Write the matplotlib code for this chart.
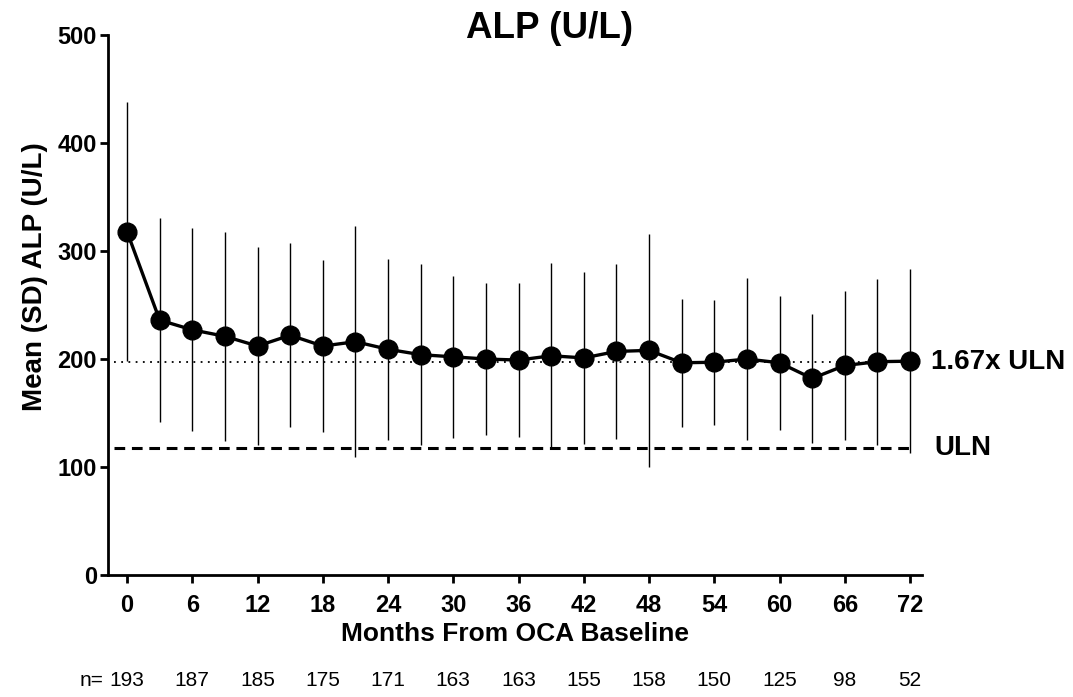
import matplotlib
matplotlib.use("Agg")
import matplotlib.pyplot as plt
from matplotlib.transforms import blended_transform_factory

plt.rcParams['font.family'] = ['Liberation Sans', 'DejaVu Sans']

months = [0, 3, 6, 9, 12, 15, 18, 21, 24, 27, 30, 33, 36, 39, 42, 45, 48, 51, 54, 57, 60, 63, 66, 69, 72]
mean_alp = [318, 236, 227, 221, 212, 222, 212, 216, 209, 204, 202, 200, 199, 203, 201, 207, 208, 196.5, 197, 200, 196.5, 182, 194, 197.5, 198]
sd_alp = [120, 94.5, 94, 97, 92, 85, 80, 107, 84, 84, 75, 70, 71, 86, 80, 81, 108, 59, 58, 75, 62, 60, 69, 77, 85]

uln = 118
uln_167 = 197
n_months = [0, 6, 12, 18, 24, 30, 36, 42, 48, 54, 60, 66, 72]
n_values = [193, 187, 185, 175, 171, 163, 163, 155, 158, 150, 125, 98, 52]
xticks = list(range(0, 73, 6))
yticks = [0, 100, 200, 300, 400, 500]

fig = plt.figure(figsize=(10.73, 6.97), dpi=100)
ax = fig.add_axes([108/1073, 1-575/697, (922-108)/1073, (575-35)/697])

ax.plot([-1.2, 72], [uln_167, uln_167], linestyle=(0, (1, 3)), color='black', lw=1.3, zorder=1)
ax.plot([-1.2, 72], [uln, uln], linestyle=(0, (3.5, 2.2)), color='black', lw=2.2, zorder=1)

ax.errorbar(months, mean_alp, yerr=sd_alp, fmt='none', ecolor='black', elinewidth=1.0, capsize=0, zorder=2)
ax.plot(months, mean_alp, color='black', lw=2.4, marker='o', markersize=13.5, zorder=3)

ax.set_xlim(-1.75, 73.1)
ax.set_ylim(0, 500)
ax.set_xticks(xticks)
ax.set_yticks(yticks)
ax.spines['top'].set_visible(False)
ax.spines['right'].set_visible(False)
ax.spines['left'].set_linewidth(2)
ax.spines['bottom'].set_linewidth(2)
ax.tick_params(axis='both', direction='out', length=6, width=2, labelsize=17)
ax.tick_params(axis='x', pad=8)
ax.tick_params(axis='y', pad=2)
for lab in ax.get_xticklabels() + ax.get_yticklabels():
    lab.set_fontweight('bold')

fig.text(550/1073, 1-28/697, 'ALP (U/L)', fontsize=26.5, fontweight='bold', ha='center', va='center')
ax.set_xlabel('Months From OCA Baseline', fontsize=19, fontweight='bold')
ax.xaxis.set_label_coords(0.5, -(634-575)/540, transform=ax.transAxes)
ax.xaxis.label.set_va('center')
ax.set_ylabel('Mean (SD) ALP (U/L)', fontsize=20, fontweight='bold')
ax.yaxis.set_label_coords(-(108-35)/814, (575-277)/540, transform=ax.transAxes)
ax.yaxis.label.set_va('center')

ax.text(73.9, uln_167, '1.67x ULN', fontsize=20, fontweight='bold', va='center', ha='left', clip_on=False)
ax.text(74.2, uln, 'ULN', fontsize=20, fontweight='bold', va='center', ha='left', clip_on=False)

tr = blended_transform_factory(ax.transData, fig.transFigure)
ny = 1 - 680/697
for m, n in zip(n_months, n_values):
    ax.text(m, ny, str(n), transform=tr, ha='center', va='center', fontsize=15)
ax.text(-3.3, ny, 'n=', transform=tr, ha='center', va='center', fontsize=15)

fig.savefig('out.png', dpi=100)
